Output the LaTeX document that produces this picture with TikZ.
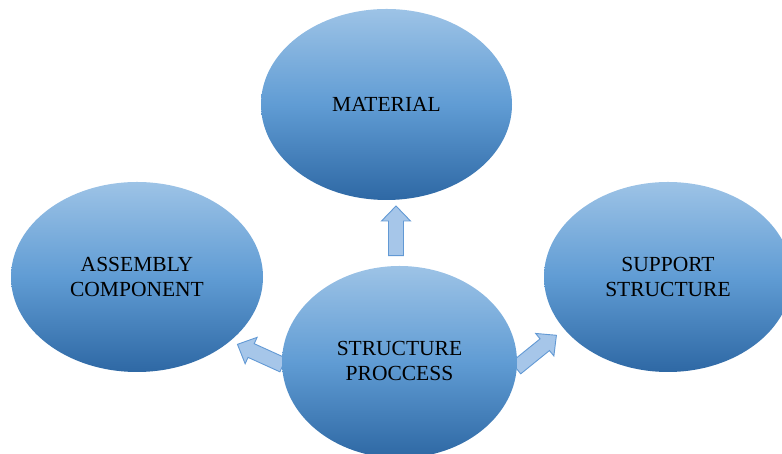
\documentclass[tikz,border=0pt]{standalone}
\usepackage{fontspec}
\setmainfont{Liberation Serif}
\definecolor{blobtop}{RGB}{157,195,230}
\definecolor{blobmid}{RGB}{96,156,212}
\definecolor{blobbot}{RGB}{46,104,164}
\definecolor{arrowfill}{RGB}{166,198,233}
\definecolor{arrowedge}{RGB}{98,153,212}
\tikzset{
  blobfont/.style={font=\fontsize{21.5}{25.5}\selectfont},
  blob/.style={ellipse, top color=blobtop, bottom color=blobbot, middle color=blobmid,
    draw=none, inner sep=0pt, align=center, blobfont},
  blockarrow/.style={fill=arrowfill, draw=arrowedge, line width=0.9pt, line join=miter},
}
\usetikzlibrary{shapes.geometric}
% block arrow: tail point, direction angle, length
\newcommand\fatarrow[3]{%
  \begin{scope}[shift={(#1)}, rotate=#2]
    \draw[blockarrow] (0,-7.5) -- (#3-15,-7.5) -- (#3-15,-14.5) -- (#3,0)
      -- (#3-15,14.5) -- (#3-15,7.5) -- (0,7.5) -- cycle;
  \end{scope}}
\begin{document}
\begin{tikzpicture}[x=1pt,y=1pt]
  \useasboundingbox (0,0) rectangle (782,454);
  \clip (0,0) rectangle (782,454);
  % connector arrows (drawn first, so the ellipses overlap their tails)
  \coordinate (upTail) at (396,198.3);
  \coordinate (leftTail) at (283,89);
  \coordinate (rightTail) at (516,86);
  \fatarrow{upTail}{90}{49.7}
  \fatarrow{leftTail}{155.6}{50}
  \fatarrow{rightTail}{39}{52}
  % the four ellipses
  \node[blob, minimum width=251pt, minimum height=191pt] (material) at (386.5,349.5) {MATERIAL};
  \node[blob, minimum width=252pt, minimum height=190pt] (assembly) at (137,177) {ASSEMBLY\\COMPONENT};
  \node[blob, minimum width=248pt, minimum height=190pt] (support) at (668,177) {SUPPORT\\STRUCTURE};
  \node[blob, minimum width=235pt, minimum height=192pt] (process) at (399.5,92) {};
  \node[blobfont, align=center] (processlabel) at (399.5,93) {STRUCTURE\\PROCCESS};
\end{tikzpicture}
\end{document}
